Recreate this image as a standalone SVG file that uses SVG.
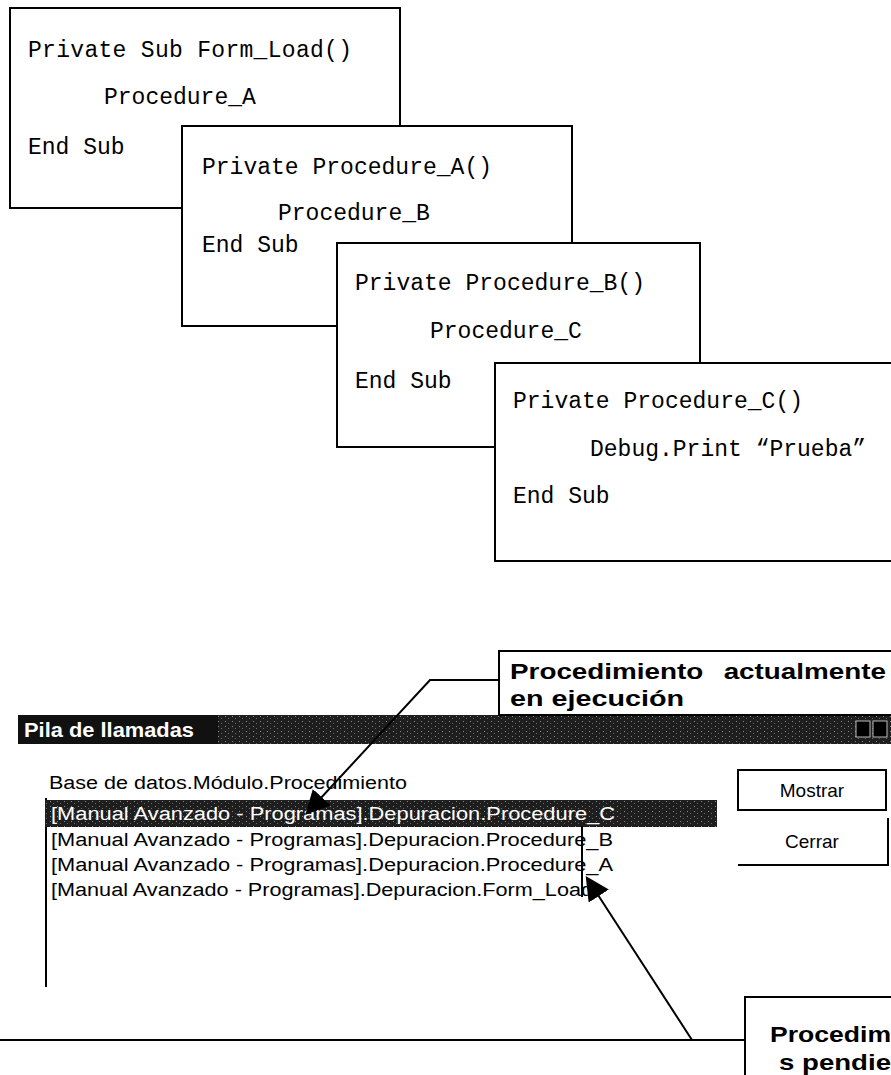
<svg xmlns="http://www.w3.org/2000/svg" width="891" height="1075" viewBox="0 0 891 1075">
<style>
.box{fill:#fff;stroke:#000;stroke-width:2}
.code{font-family:"Liberation Mono","Courier New",monospace;font-size:23px;fill:#000}
.ui{font-family:"Liberation Sans",Arial,sans-serif;font-size:18px;fill:#000}
.btn{font-family:"Liberation Sans",Arial,sans-serif;font-size:19px;fill:#000}
.call{font-family:"Liberation Sans",Arial,sans-serif;font-size:22px;font-weight:bold;fill:#000}
.ln{stroke:#000;stroke-width:2;fill:none}
</style>
<defs>
<marker id="ah2" viewBox="0 0 10 10" refX="9" refY="5" markerWidth="24" markerHeight="24" orient="auto" markerUnits="userSpaceOnUse">
<path d="M0,0 L10,5 L0,10 z" fill="#000"/>
</marker>
<pattern id="dither" width="7" height="5" patternUnits="userSpaceOnUse">
<rect width="7" height="5" fill="#1e1e1e"/>
<rect x="1" y="1" width="1" height="1" fill="#8a8a8a"/>
<rect x="4" y="3" width="1" height="1" fill="#6a6a6a"/>
</pattern>
</defs>
<rect width="891" height="1075" fill="#fff"/>

<g id="box-formload">
<rect class="box" x="10" y="8" width="390" height="200"/>
<text class="code" x="28" y="57" textLength="324">Private Sub Form_Load()</text>
<text class="code" x="104" y="104">Procedure_A</text>
<text class="code" x="28" y="154">End Sub</text>
</g>
<g id="box-procA">
<rect class="box" x="182" y="126" width="390" height="200"/>
<text class="code" x="202" y="174" textLength="290">Private Procedure_A()</text>
<text class="code" x="278" y="220">Procedure_B</text>
<text class="code" x="202" y="252">End Sub</text>
</g>
<g id="box-procB">
<rect class="box" x="337" y="243" width="363" height="204"/>
<text class="code" x="355" y="290" textLength="290">Private Procedure_B()</text>
<text class="code" x="430" y="338">Procedure_C</text>
<text class="code" x="355" y="388">End Sub</text>
</g>
<g id="box-procC">
<rect class="box" x="495" y="363" width="410" height="198"/>
<text class="code" x="513" y="408" textLength="290">Private Procedure_C()</text>
<text class="code" x="590" y="456">Debug.Print “Prueba”</text>
<text class="code" x="513" y="503">End Sub</text>
</g>

<g id="titlebar">
<rect x="18" y="715" width="873" height="29" fill="url(#dither)"/>
<rect x="18" y="715" width="200" height="29" fill="#111"/>
<text x="24" y="737" font-family="Liberation Sans,Arial,sans-serif" font-size="20" font-weight="bold" fill="#fff" textLength="170" lengthAdjust="spacingAndGlyphs">Pila de llamadas</text>
<rect x="856" y="721" width="14" height="16" fill="#000" stroke="#bbb" stroke-width="1"/>
<rect x="873" y="721" width="14" height="16" fill="#000" stroke="#bbb" stroke-width="1"/>
</g>

<g id="callstack-list">
<text class="ui" x="49" y="789" textLength="358" lengthAdjust="spacingAndGlyphs">Base de datos.Módulo.Procedimiento</text>
<line class="ln" x1="46" y1="798" x2="46" y2="987"/>
<rect x="45" y="800" width="672" height="27" fill="url(#dither)"/>
<text class="ui" x="51" y="820" style="fill:#fff" textLength="564" lengthAdjust="spacingAndGlyphs">[Manual Avanzado - Programas].Depuracion.Procedure_C</text>
<text class="ui" x="51" y="846" textLength="562" lengthAdjust="spacingAndGlyphs">[Manual Avanzado - Programas].Depuracion.Procedure_B</text>
<text class="ui" x="51" y="871" textLength="562" lengthAdjust="spacingAndGlyphs">[Manual Avanzado - Programas].Depuracion.Procedure_A</text>
<text class="ui" x="51" y="896" textLength="542" lengthAdjust="spacingAndGlyphs">[Manual Avanzado - Programas].Depuracion.Form_Load</text>
</g>

<g id="btn-mostrar">
<rect x="738" y="770" width="148" height="40" fill="#fff" stroke="#000" stroke-width="2"/>
<text class="btn" x="812" y="797" text-anchor="middle">Mostrar</text>
</g>
<g id="btn-cerrar">
<path class="ln" d="M738,865 L888,865 L888,818"/>
<text class="btn" x="812" y="848" text-anchor="middle">Cerrar</text>
</g>

<g id="callout-actual">
<rect x="499" y="651" width="400" height="64" fill="#fff" stroke="#000" stroke-width="2"/>
<text class="call" x="510" y="679" textLength="376" lengthAdjust="spacingAndGlyphs" word-spacing="10">Procedimiento actualmente</text>
<text class="call" x="510" y="706" textLength="174" lengthAdjust="spacingAndGlyphs">en ejecución</text>
</g>

<g id="callout-pendientes">
<rect x="745" y="997" width="160" height="90" fill="#fff" stroke="#000" stroke-width="2"/>
<text class="call" x="770" y="1042" textLength="121" lengthAdjust="spacingAndGlyphs">Procedim</text>
<text class="call" x="779" y="1070" textLength="112" lengthAdjust="spacingAndGlyphs">s pendie</text>
</g>

<g id="connectors">
<path class="ln" d="M499,680 L430,680 L307,813" marker-end="url(#ah2)"/>
<line class="ln" x1="0" y1="1040" x2="745" y2="1040"/>
<path class="ln" d="M692,1040 L587,878" marker-end="url(#ah2)"/>
<line class="ln" x1="582" y1="826" x2="582" y2="897"/>
</g>
</svg>
